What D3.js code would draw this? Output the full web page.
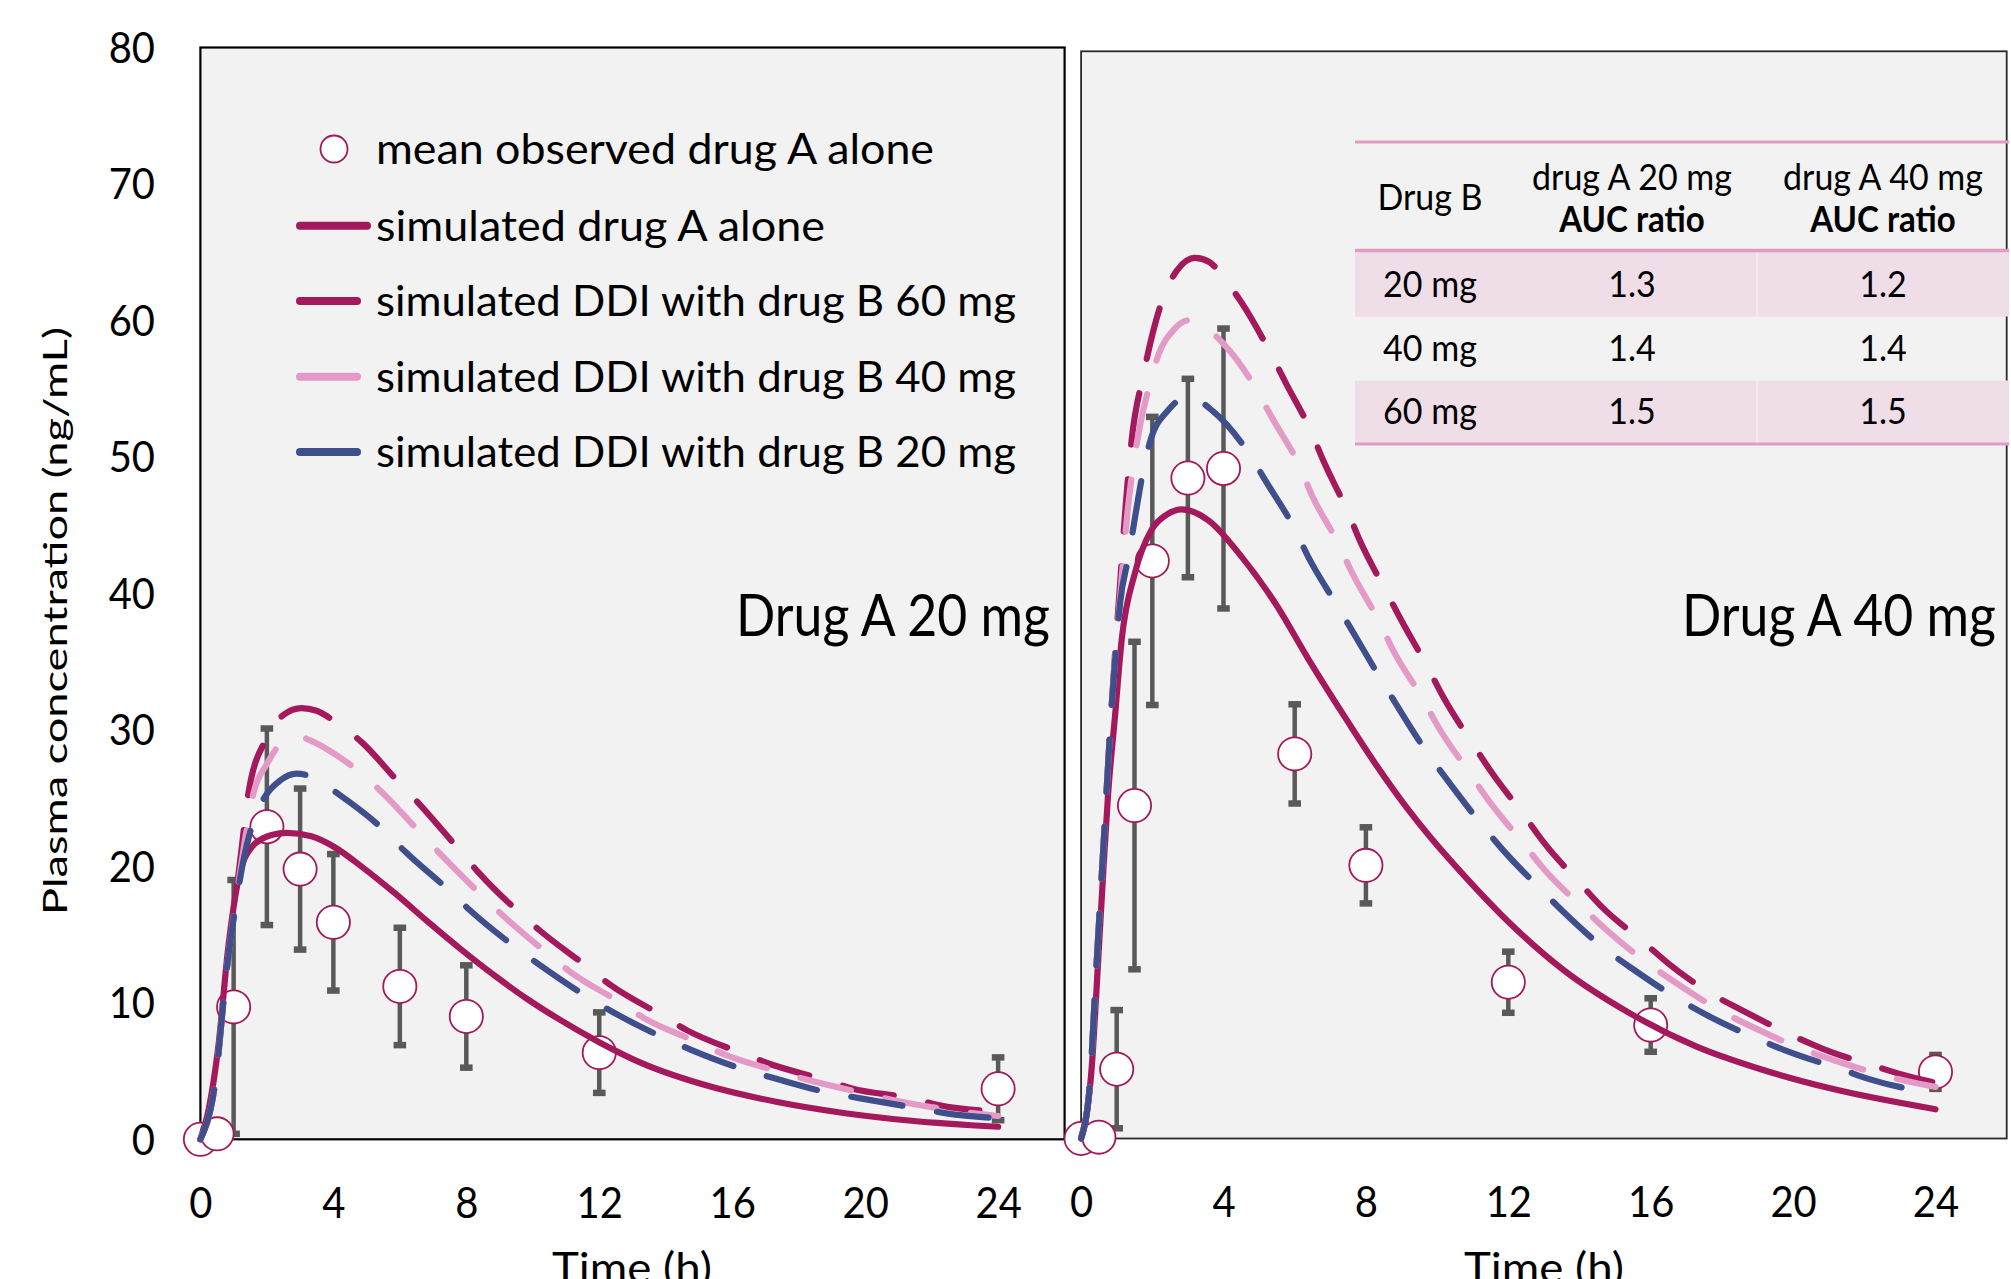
<!DOCTYPE html>
<html><head><meta charset="utf-8">
<script src="https://cdn.jsdelivr.net/npm/d3@7"></script>
<style>html,body{margin:0;padding:0;background:#fff;}svg{display:block}</style>
</head><body>
<svg id="chart" width="2011" height="1279"></svg>
<script>
// ================= DATA =================
const xTicks = [0, 4, 8, 12, 16, 20, 24];
const yTicks = [0, 10, 20, 30, 40, 50, 60, 70, 80];
const panelLabels = ["Drug A 20 mg", "Drug A 40 mg"];
const xTitle = "Time (h)";
const yTitle = "Plasma concentration (ng/mL)";
const legendLabels = [
  "mean observed drug A alone",
  "simulated drug A alone",
  "simulated DDI with drug B 60 mg",
  "simulated DDI with drug B 40 mg",
  "simulated DDI with drug B 20 mg"
];

// Observed, drug A 20 mg
const obsTimeA20 = [0, 0.5, 1, 2, 3, 4, 6, 8, 12, 24];
const obsMeanA20 = [0, 0.4, 9.7, 22.9, 19.8, 15.9, 11.2, 9.0, 6.35, 3.7];
const obsSdA20   = [0, 0, 9.3, 7.2, 5.9, 5.0, 4.3, 3.75, 2.95, 2.3];

// Observed, drug A 40 mg
const obsTimeA40 = [0, 0.5, 1, 1.5, 2, 3, 4, 6, 8, 12, 16, 24];
const obsMeanA40 = [0, 0.1, 5.1, 24.5, 42.5, 48.6, 49.3, 28.3, 20.1, 11.5, 8.35, 4.9];
const obsSdA40   = [0, 0, 4.35, 12.05, 10.6, 7.3, 10.3, 3.65, 2.8, 2.25, 1.97, 1.25];

// Simulated, drug A 20 mg
const simA20AloneT = [0, 0.25, 0.54, 0.84, 1.14, 1.54, 2.14, 2.6, 3.34, 4.04, 4.84, 5.84, 6.84, 7.85, 8.85, 9.85, 10.65, 12.01, 13.26, 15.29, 17.32, 19.35, 21.39, 24];
const simA20AloneC = [0, 2.2, 6.8, 14.1, 19.0, 21.4, 22.3, 22.45, 22.2, 21.4, 20.0, 18.05, 15.95, 13.9, 12.0, 10.25, 9.0, 7.1, 5.6, 3.9, 2.75, 1.93, 1.36, 0.92];
const simA20B60T = [0, 0.44, 0.79, 1.04, 1.25, 1.44, 1.99, 2.5, 3.04, 3.5, 4.05, 4.85, 5.95, 6.65, 7.75, 8.35, 9.6, 10.21, 11.63, 12.34, 13.87, 14.63, 16.3, 17.07, 18.8, 19.6, 21.39, 22.2, 24];
const simA20B60C = [0, 4.1, 12.4, 17.3, 21.5, 25.3, 29.4, 31.1, 31.6, 31.4, 30.6, 29.1, 26.2, 24.4, 21.3, 19.6, 16.6, 15.3, 12.65, 11.3, 9.1, 8.0, 6.3, 5.57, 4.34, 3.73, 3.0, 2.51, 2.02];
const simA20B40T = [0, 0.44, 0.79, 1.04, 1.3, 1.59, 2.0, 2.39, 3.0, 3.29, 4.0, 4.69, 5.39, 6.6, 7.2, 8.45, 9.1, 10.45, 11.12, 12.59, 13.36, 14.93, 15.8, 17.42, 18.29, 19.96, 20.83, 22.55, 24];
const simA20B40C = [0, 4.1, 12.4, 17.0, 21.3, 25.3, 27.5, 28.9, 29.5, 29.25, 28.3, 27.1, 25.6, 22.5, 20.95, 17.9, 16.4, 13.6, 12.28, 10.08, 8.86, 7.15, 6.18, 4.95, 4.34, 3.37, 2.88, 2.15, 1.71];
const simA20B20T = [0, 0.44, 0.79, 1.04, 1.3, 1.54, 1.94, 2.4, 2.89, 3.4, 4.15, 5.5, 6.15, 7.45, 8.1, 9.46, 10.21, 11.63, 12.39, 13.97, 14.78, 16.4, 17.27, 19.0, 19.86, 21.59, 22.45, 24];
const simA20B20C = [0, 4.1, 12.4, 16.8, 20.5, 22.9, 25.1, 26.3, 26.8, 26.5, 25.3, 22.7, 21.1, 18.3, 16.8, 14.1, 12.77, 10.45, 9.35, 7.4, 6.54, 5.08, 4.47, 3.37, 3.0, 2.27, 1.9, 1.54];

// Simulated, drug A 40 mg
const simA40AloneT = [0, 0.3, 0.48, 0.62, 0.76, 0.95, 1.14, 1.51, 1.98, 2.4, 2.83, 3.57, 4.51, 5.45, 6.38, 7.51, 8.26, 9.19, 9.8, 10.74, 12.14, 13.55, 15.42, 17.29, 19.16, 21.04, 24];
const simA40AloneC = [0, 5.3, 13.1, 19.5, 25.4, 31.0, 36.7, 41.6, 44.8, 45.9, 46.3, 45.5, 42.8, 39.4, 35.3, 30.6, 27.6, 24.2, 22.2, 19.4, 15.6, 12.4, 9.21, 6.76, 5.04, 3.69, 2.15];
const simA40B60T = [0, 0.25, 0.39, 0.53, 0.67, 0.81, 0.95, 1.1, 1.25, 1.42, 1.75, 2.31, 2.7, 3.2, 3.6, 4.04, 4.51, 5.35, 5.73, 6.48, 6.8, 7.51, 7.83, 8.58, 8.96, 9.75, 10.17, 11.02, 11.49, 12.47, 12.98, 14.06, 14.62, 15.84, 16.49, 17.85, 18.55, 20.05, 20.8, 22.35, 23.1, 24];
const simA40B60C = [0, 4.1, 10.7, 17.1, 23.4, 29.8, 35.5, 41.0, 46.5, 51.4, 56.2, 61.9, 63.9, 64.8, 64.5, 63.2, 61.5, 57.65, 55.7, 51.9, 49.9, 46.0, 44.0, 40.2, 38.3, 34.6, 32.5, 28.96, 27.1, 23.68, 21.84, 18.65, 17.06, 14.36, 12.89, 10.43, 9.46, 7.49, 6.64, 5.28, 4.67, 4.1];
const simA40B40T = [0, 0.25, 0.39, 0.53, 0.67, 0.81, 0.95, 1.1, 1.3, 1.65, 1.94, 2.17, 2.6, 3.01, 3.3, 3.99, 4.93, 5.35, 6.15, 6.48, 7.22, 7.6, 8.4, 8.77, 9.61, 10.03, 10.92, 11.44, 12.42, 12.98, 14.11, 14.76, 15.98, 16.73, 18.09, 18.84, 20.33, 21.13, 22.67, 23.47, 24];
const simA40B40C = [0, 4.1, 10.7, 17.1, 23.4, 29.8, 35.2, 40.0, 46.0, 52.4, 55.6, 57.65, 59.5, 60.2, 60.0, 58.5, 55.1, 53.1, 49.4, 47.35, 43.8, 41.7, 37.9, 35.9, 32.3, 30.3, 26.87, 24.9, 21.72, 19.88, 16.94, 15.34, 12.77, 11.42, 9.21, 8.23, 6.51, 5.78, 4.55, 4.06, 3.8];
const simA40B20T = [0, 0.25, 0.39, 0.53, 0.67, 0.81, 0.95, 1.1, 1.33, 1.47, 1.75, 1.94, 2.45, 3.01, 3.71, 4.74, 5.17, 6.01, 6.38, 7.22, 7.65, 8.49, 9.8, 10.32, 11.3, 11.86, 12.98, 13.59, 14.81, 15.47, 16.82, 17.57, 19.07, 19.87, 21.41, 22.16, 23.8, 24];
const simA40B20C = [0, 4.1, 10.7, 17.1, 23.4, 29.8, 35.0, 39.5, 42.8, 45.0, 49.2, 51.3, 53.6, 54.6, 53.5, 50.3, 48.45, 44.8, 42.8, 39.1, 37.2, 33.5, 28.1, 26.26, 22.94, 21.2, 18.16, 16.57, 13.75, 12.52, 10.19, 9.09, 7.25, 6.39, 5.04, 4.35, 3.44, 3.38];

// AUC ratio table
const tableHeader = ["Drug B", "drug A 20 mg", "drug A 40 mg"];
const tableHeaderBold = ["", "AUC ratio", "AUC ratio"];
const tableDrugB = ["20 mg", "40 mg", "60 mg"];
const tableAucA20 = ["1.3", "1.4", "1.5"];
const tableAucA40 = ["1.2", "1.4", "1.5"];

// ================= STYLE / LAYOUT =================
const crimson = "#A3195B", pink = "#E39AC6", blue = "#3F4F8C", gray = "#595959";
const FONT = "Lato, 'Open Sans', sans-serif";
const svg = d3.select("#chart");
svg.append("rect").attr("width", 2011).attr("height", 1279).attr("fill", "#fff");

function measure(text, size, weight) {
  const t = svg.append("text").attr("font-family", FONT).attr("font-size", size)
    .attr("font-weight", weight || 400).text(text);
  const w = t.node().getComputedTextLength(); t.remove(); return w;
}
function squeeze(sel, factor) {
  sel.each(function () {
    const w = this.getComputedTextLength();
    this.setAttribute("textLength", (w * factor).toFixed(1));
    this.setAttribute("lengthAdjust", "spacingAndGlyphs");
  });
}

const seriesStyle = [
  { color: crimson, dash: null },
  { color: crimson, dash: "52,35" },
  { color: pink, dash: "52,35" },
  { color: blue, dash: "52,35" }
];

const panels = [
  { x0: 200.4, x1: 1064.6, yTop: 47.5, y0: 1139.3, border: "#000", bw: 2.2,
    obsT: obsTimeA20, obsM: obsMeanA20, obsS: obsSdA20,
    sims: [[simA20AloneT, simA20AloneC], [simA20B60T, simA20B60C], [simA20B40T, simA20B40C], [simA20B20T, simA20B20C]],
    label: panelLabels[0], labelX: 1050, titleX: 632 },
  { x0: 1081.1, x1: 2006.7, yTop: 51.3, y0: 1138.5, border: "#2a2a2a", bw: 1.8,
    obsT: obsTimeA40, obsM: obsMeanA40, obsS: obsSdA40,
    sims: [[simA40AloneT, simA40AloneC], [simA40B60T, simA40B60C], [simA40B40T, simA40B40C], [simA40B20T, simA40B20C]],
    label: panelLabels[1], labelX: 1996, titleX: 1544 }
];

const tickFactor = 0.95;
const legendWidths = [558, 449, 640, 640, 640];

panels.forEach((p, pi) => {
  const x = d3.scaleLinear().domain([0, 26]).range([p.x0, p.x1]);
  const y = d3.scaleLinear().domain([0, 80]).range([p.y0, p.yTop]);
  const g = svg.append("g");

  g.append("rect").attr("x", p.x0).attr("y", p.yTop).attr("width", p.x1 - p.x0).attr("height", p.y0 - p.yTop)
    .attr("fill", "#F2F2F2").attr("stroke", p.border).attr("stroke-width", p.bw);

  // x axis labels
  const xa = g.append("g").attr("transform", `translate(0,${p.y0})`)
    .call(d3.axisBottom(x).tickValues(xTicks).tickSize(0).tickFormat(d3.format("d")));
  xa.select(".domain").remove();
  xa.selectAll("text").attr("y", 0).attr("dy", 78.5).attr("font-family", FONT)
    .attr("font-size", 42).attr("fill", "#000");
  squeeze(xa.selectAll("text"), tickFactor);

  // x title
  g.append("text").attr("x", p.titleX).attr("y", 1283).attr("text-anchor", "middle")
    .attr("font-family", FONT).attr("font-size", 42).attr("fill", "#000")
    .attr("textLength", 160).attr("lengthAdjust", "spacingAndGlyphs").text(xTitle);

  if (pi === 0) {
    const ya = g.append("g").attr("transform", `translate(${p.x0},0)`)
      .call(d3.axisLeft(y).tickValues(yTicks).tickSize(0).tickPadding(p.x0 - 155));
    ya.select(".domain").remove();
    ya.selectAll("text").attr("dy", 15).attr("font-family", FONT).attr("font-size", 42).attr("fill", "#000");
    squeeze(ya.selectAll("text"), tickFactor);
    g.append("text").attr("transform", "translate(67,621) rotate(-90)").attr("text-anchor", "middle")
      .attr("font-family", FONT).attr("font-size", 33).attr("fill", "#000")
      .attr("textLength", 588).attr("lengthAdjust", "spacingAndGlyphs").text(yTitle);
  }

  // error bars
  const eb = g.append("g").attr("stroke", gray);
  p.obsT.forEach((t, i) => {
    const s = p.obsS[i]; if (!s) return;
    const cx = x(t), yt = y(p.obsM[i] + s), yb = y(p.obsM[i] - s);
    eb.append("line").attr("x1", cx).attr("x2", cx).attr("y1", yt).attr("y2", yb).attr("stroke-width", 4.5);
    [yt, yb].forEach(yy => eb.append("line").attr("x1", cx - 6.3).attr("x2", cx + 6.3)
      .attr("y1", yy).attr("y2", yy).attr("stroke-width", 6.5));
  });

  // observed markers
  g.append("g").selectAll("circle").data(p.obsT).join("circle")
    .attr("cx", d => x(d)).attr("cy", (d, i) => y(p.obsM[i])).attr("r", 16.6)
    .attr("fill", "#fff").attr("stroke", crimson).attr("stroke-width", 1.8);

  // simulated lines
  const line = d3.line().curve(d3.curveMonotoneX).x(d => x(d[0])).y(d => y(d[1]));
  p.sims.forEach((s, k) => {
    const pts = s[0].map((t, i) => [t, s[1][i]]);
    g.append("path").attr("d", line(pts)).attr("fill", "none")
      .attr("stroke", seriesStyle[k].color).attr("stroke-width", 6.2)
      .attr("stroke-linecap", "round").attr("stroke-linejoin", "round")
      .attr("stroke-dasharray", seriesStyle[k].dash);
  });

  // panel label
  g.append("text").attr("x", p.labelX).attr("y", 636).attr("text-anchor", "end")
    .attr("font-family", FONT).attr("font-size", 58).attr("fill", "#000")
    .attr("textLength", 314).attr("lengthAdjust", "spacingAndGlyphs").text(p.label);
});

// ================= LEGEND =================
const lg = svg.append("g");
const legY = [149, 225.7, 301, 376.7, 452];
lg.append("circle").attr("cx", 334).attr("cy", legY[0]).attr("r", 13.5)
  .attr("fill", "#fff").attr("stroke", crimson).attr("stroke-width", 1.8);
seriesStyle.forEach((s, k) => {
  lg.append("line").attr("x1", 300).attr("x2", k === 0 ? 367 : 357)
    .attr("y1", legY[k + 1]).attr("y2", legY[k + 1])
    .attr("stroke", s.color).attr("stroke-width", 8).attr("stroke-linecap", "round");
});
legendLabels.forEach((t, i) => {
  lg.append("text").attr("x", 376).attr("y", legY[i] + 15.3)
    .attr("font-family", FONT).attr("font-size", 43).attr("fill", "#000")
    .attr("textLength", legendWidths[i]).attr("lengthAdjust", "spacingAndGlyphs").text(t);
});

// ================= TABLE =================
const tb = svg.append("g");
const tblX0 = 1355, tblX1 = 2009;
const colX = [1430, 1632, 1883];
const rowTop = [251.5, 316.5, 380.5], rowBot = [316.5, 380.5, 443.5];
const rowBase = [296.7, 360.7, 424.3];
[0, 2].forEach(r => {
  tb.append("rect").attr("x", tblX0).attr("y", rowTop[r]).attr("width", tblX1 - tblX0)
    .attr("height", rowBot[r] - rowTop[r]).attr("fill", "#EFDDE7");
  tb.append("line").attr("x1", 1757).attr("x2", 1757).attr("y1", rowTop[r]).attr("y2", rowBot[r])
    .attr("stroke", "#F6EAF1").attr("stroke-width", 1.5);
});
[[142, 3], [250.6, 3.5], [444, 3]].forEach(([yy, w]) =>
  tb.append("line").attr("x1", tblX0).attr("x2", tblX1).attr("y1", yy).attr("y2", yy)
    .attr("stroke", "#E29BC6").attr("stroke-width", w));

const tabFactor = 200 / measure(tableHeader[1], 36);
const boldFactor = 145.5 / measure(tableHeaderBold[1], 36, 700);
function tText(txt, xx, yy, bold) {
  const t = tb.append("text").attr("x", xx).attr("y", yy).attr("text-anchor", "middle")
    .attr("font-family", FONT).attr("font-size", 36).attr("font-weight", bold ? 700 : 400)
    .attr("fill", "#000").text(txt);
  squeeze(t, bold ? boldFactor : tabFactor);
}
tText(tableHeader[0], colX[0], 210);
tText(tableHeader[1], colX[1], 190);
tText(tableHeader[2], colX[2], 190);
tText(tableHeaderBold[1], colX[1], 232, true);
tText(tableHeaderBold[2], colX[2], 232, true);
tableDrugB.forEach((d, r) => {
  tText(d, colX[0], rowBase[r]);
  tText(tableAucA20[r], colX[1], rowBase[r]);
  tText(tableAucA40[r], colX[2], rowBase[r]);
});
</script>
</body></html>
